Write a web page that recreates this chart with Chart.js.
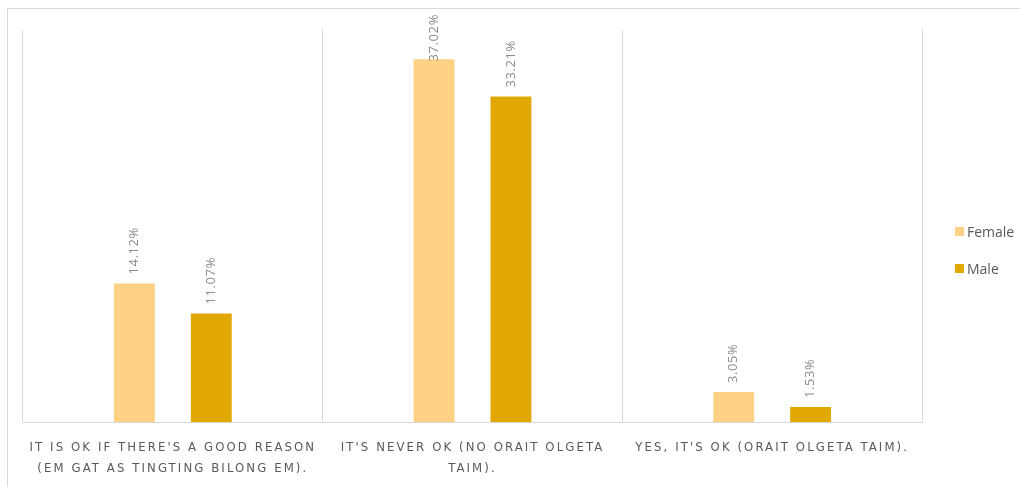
<!DOCTYPE html>
<html lang="en">
    <head>
        <meta charset="UTF-8" />
        <title>Attitudes chart</title>
        <script src="https://cdn.jsdelivr.net/npm/chart.js"></script>
        <style>
            body {
                margin: 0;
                background: #ffffff;
                font-family: 'Open Sans', sans-serif;
            }
            /* light frame around the whole chart */
            .frame {
                position: absolute;
                left: 7px;
                top: 8px;
                width: 1030px;
                height: 500px;
                border: 1px solid #d9d9d9;
            }
            .chart-box {
                position: absolute;
                left: 0;
                top: 0;
                width: 1020px;
                height: 487px;
            }
            /* legend on the right */
            #legend {
                position: absolute;
                left: 955px;
                top: 220px;
                font-size: 14px;
                color: #595959;
            }
            #legend .item {
                display: flex;
                align-items: center;
                height: 22px;
                margin-bottom: 15px;
            }
            #legend .swatch {
                width: 9px;
                height: 9px;
                margin-right: 3px;
            }
        </style>
    </head>
    <body>
        <div class="frame"></div>
        <div class="chart-box">
            <canvas id="attitudeChart"></canvas>
        </div>
        <div id="legend"></div>

        <script>
            // categories (x axis, two lines each)
            const categories = [
                ["IT IS OK IF THERE'S A GOOD REASON", '(EM GAT AS TINGTING BILONG EM).'],
                ["IT'S NEVER OK (NO ORAIT OLGETA", 'TAIM).'],
                ["YES, IT'S OK (ORAIT OLGETA TAIM)."],
            ];
            const seriesNames = ['Female', 'Male'];
            const seriesColors = ['#ffd184', '#e0a800'];
            const femaleValues = [14.12, 37.02, 3.05];
            const maleValues = [11.07, 33.21, 1.53];

            // rotated percent labels above each bar
            const barLabels = {
                id: 'barLabels',
                afterDatasetsDraw(chart) {
                    const ctx = chart.ctx;
                    ctx.save();
                    ctx.letterSpacing = '0.6px';
                    ctx.font = '13px "Open Sans", sans-serif';
                    ctx.fillStyle = '#8c8c8c';
                    ctx.textAlign = 'left';
                    ctx.textBaseline = 'middle';
                    chart.data.datasets.forEach((ds, i) => {
                        chart.getDatasetMeta(i).data.forEach((bar, j) => {
                            const txt = ds.data[j].toFixed(2) + '%';
                            const w = ctx.measureText(txt).width;
                            let start = bar.y - 9;
                            if (start - w < 14) start = 14 + w;
                            ctx.save();
                            ctx.translate(bar.x, start);
                            ctx.rotate(-Math.PI / 2);
                            ctx.fillText(txt, 0, 0);
                            ctx.restore();
                        });
                    });
                    ctx.restore();
                },
            };

            // spaced-out capitals for the category text
            const spacing = {
                id: 'spacing',
                beforeDraw(chart) {
                    const scale = chart.scales.x;
                    if (scale._spaced) return;
                    const orig = scale.drawLabels;
                    scale.drawLabels = function (area) {
                        this.ctx.save();
                        this.ctx.letterSpacing = '2.1px';
                        orig.call(this, area);
                        this.ctx.restore();
                    };
                    scale._spaced = true;
                },
            };

            const ctx = document.getElementById('attitudeChart').getContext('2d');
            new Chart(ctx, {
                type: 'bar',
                data: {
                    labels: categories,
                    datasets: [
                        {
                            label: seriesNames[0],
                            data: femaleValues,
                            backgroundColor: seriesColors[0],
                            categoryPercentage: 0.513,
                            barPercentage: 0.532,
                        },
                        {
                            label: seriesNames[1],
                            data: maleValues,
                            backgroundColor: seriesColors[1],
                            categoryPercentage: 0.513,
                            barPercentage: 0.532,
                        },
                    ],
                },
                options: {
                    responsive: true,
                    maintainAspectRatio: false,
                    animation: false,
                    layout: {
                        padding: { left: 23, top: 30, right: 98, bottom: 0 },
                    },
                    scales: {
                        x: {
                            afterFit(scale) {
                                scale.height = 65;
                            },
                            grid: {
                                offset: true,
                                color: '#d9d9d9',
                                drawTicks: false,
                            },
                            border: { color: '#d9d9d9' },
                            ticks: {
                                color: '#595959',
                                padding: 15,
                                maxRotation: 0,
                                font: {
                                    family: 'DejaVu Sans Condensed',
                                    size: 13,
                                    lineHeight: 1.6,
                                },
                            },
                        },
                        y: {
                            display: false,
                            min: 0,
                            max: 40,
                        },
                    },
                    plugins: {
                        legend: { display: false },
                        tooltip: { enabled: false },
                    },
                },
                plugins: [spacing, barLabels],
            });

            // simple legend built from the series arrays
            const legendEl = document.getElementById('legend');
            seriesNames.forEach((name, i) => {
                const item = document.createElement('div');
                item.className = 'item';
                const sw = document.createElement('span');
                sw.className = 'swatch';
                sw.style.background = seriesColors[i];
                const label = document.createElement('span');
                label.textContent = name;
                item.appendChild(sw);
                item.appendChild(label);
                legendEl.appendChild(item);
            });
        </script>
    </body>
</html>
